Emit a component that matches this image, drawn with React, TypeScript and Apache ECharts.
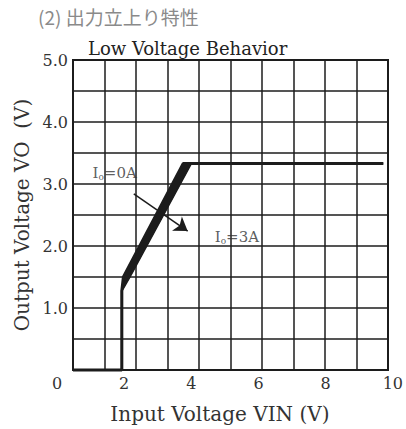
import React, { useEffect, useRef } from "react";
import * as echarts from "echarts";

// Output rise characteristic: VO vs VIN, Io = 0A and Io = 3A
const io0Vin = [0, 1.55, 1.55, 1.6, 3.5, 9.85];
const io0Vo = [0, 0, 1.28, 1.5, 3.33, 3.33];
const io3Vin = [0, 1.55, 1.55, 1.8, 3.75, 9.85];
const io3Vo = [0, 0, 1.28, 1.5, 3.33, 3.33];

// Arrow from the Io=0A curve towards the Io=3A curve
const arrowFrom = [1.93, 2.84];
const arrowTo = [3.64, 2.24];

const label0A = [0.62, 3.18];
const label3A = [4.5, 2.15];

const xTicks = [0, 2, 4, 6, 8, 10];

const INK = "#1c1c1c";
const SERIF = "DejaVu Serif";

function pairs(xs: number[], ys: number[]) {
  return xs.map((x, i) => [x, ys[i]]);
}

export default function App() {
  const ref = useRef<HTMLDivElement>(null);

  useEffect(() => {
    document.body.style.margin = "0";
    const chart = echarts.init(ref.current!, null, { renderer: "svg" });

    const io0 = pairs(io0Vin, io0Vo);
    const io3 = pairs(io3Vin, io3Vo);
    // spread between the two load curves on the rising slope
    const band = [...io0.slice(2, 5), ...io3.slice(2, 5).reverse()];

    const subRich = {
      s: { fontSize: 9, fontFamily: SERIF, color: "#333", verticalAlign: "bottom", padding: [8, 0, 0, 0] },
    };

    chart.setOption({
      animation: false,
      backgroundColor: "#fff",
      textStyle: { fontFamily: SERIF, color: "#333" },
      graphic: [
        {
          type: "text",
          left: 38,
          top: 7,
          style: {
            text: "(2) 出力立上り特性",
            fontFamily: "Noto Sans CJK JP",
            fontSize: 19,
            fill: "#8a8a8a",
          },
        },
        {
          type: "text",
          left: 88,
          top: 39,
          style: {
            text: "Low Voltage Behavior",
            fontFamily: SERIF,
            fontSize: 18,
            fill: "#222",
          },
        },
      ],
      grid: [
        { left: 73, right: 18, top: 60, bottom: 59, show: true, borderColor: INK, borderWidth: 2 },
        { left: 57, right: 11, top: 60, bottom: 59 },
      ],
      xAxis: [
        {
          type: "value",
          gridIndex: 0,
          min: 0,
          max: 10,
          interval: 1,
          axisLine: { show: false },
          axisTick: { show: false },
          axisLabel: { show: false },
          splitLine: { show: true, lineStyle: { color: INK, width: 1.5 } },
        },
        {
          type: "value",
          gridIndex: 1,
          min: 0,
          max: 10,
          interval: 2,
          axisLine: { show: false },
          axisTick: { show: false },
          splitLine: { show: false },
          axisLabel: {
            margin: 7,
            fontFamily: SERIF,
            fontSize: 16,
            color: "#333",
            customValues: xTicks,
          },
          name: "Input Voltage VIN (V)",
          nameLocation: "middle",
          nameGap: 36,
          nameTextStyle: { fontFamily: SERIF, fontSize: 20, color: "#333", padding: [0, 10, 0, 0] },
        },
      ],
      yAxis: [
        {
          type: "value",
          gridIndex: 0,
          min: 0,
          max: 5,
          interval: 0.5,
          axisLine: { show: false },
          axisTick: { show: false },
          splitLine: { show: true, lineStyle: { color: INK, width: 1.5 } },
          axisLabel: {
            margin: 5,
            fontFamily: SERIF,
            fontSize: 16,
            color: "#333",
            formatter: (v: number) => (v > 0 && Math.abs(v - Math.round(v)) < 1e-9 ? v.toFixed(1) : ""),
          },
          name: "Output Voltage VO  (V)",
          nameLocation: "middle",
          nameGap: 41,
          nameTextStyle: { fontFamily: SERIF, fontSize: 20, color: "#333" },
        },
        {
          type: "value",
          gridIndex: 1,
          min: 0,
          max: 5,
          show: false,
        },
      ],
      series: [
        {
          type: "custom",
          xAxisIndex: 0,
          yAxisIndex: 0,
          clip: false,
          data: band,
          renderItem: (params: any, api: any) => {
            if (params.dataIndex !== 0) return null;
            return {
              type: "polygon",
              shape: { points: band.map((p) => api.coord(p)) },
              style: { fill: INK, stroke: INK, lineWidth: 1 },
            };
          },
        },
        {
          name: "Io=0A",
          type: "line",
          xAxisIndex: 0,
          yAxisIndex: 0,
          clip: false,
          data: io0,
          symbol: "none",
          lineStyle: { color: INK, width: 3 },
        },
        {
          name: "Io=3A",
          type: "line",
          xAxisIndex: 0,
          yAxisIndex: 0,
          clip: false,
          data: io3,
          symbol: "none",
          lineStyle: { color: INK, width: 2 },
          markLine: {
            silent: true,
            symbol: ["none", "arrow"],
            symbolSize: 13,
            label: { show: false },
            lineStyle: { color: INK, width: 1.5, type: "solid" },
            data: [[{ coord: arrowFrom }, { coord: arrowTo }]],
          },
        },
        {
          type: "scatter",
          xAxisIndex: 0,
          yAxisIndex: 0,
          symbolSize: 0,
          data: [label0A],
          label: {
            show: true,
            position: "right",
            distance: 0,
            formatter: "I{s|o}=0A",
            fontFamily: SERIF,
            fontSize: 15,
            color: "#333",
            rich: subRich,
          },
        },
        {
          type: "scatter",
          xAxisIndex: 0,
          yAxisIndex: 0,
          symbolSize: 0,
          data: [label3A],
          label: {
            show: true,
            position: "right",
            distance: 0,
            formatter: "I{s|o}=3A",
            fontFamily: SERIF,
            fontSize: 15,
            color: "#333",
            rich: subRich,
          },
        },
      ],
    });

    return () => chart.dispose();
  }, []);

  return <div ref={ref} style={{ width: 406, height: 429 }} />;
}
